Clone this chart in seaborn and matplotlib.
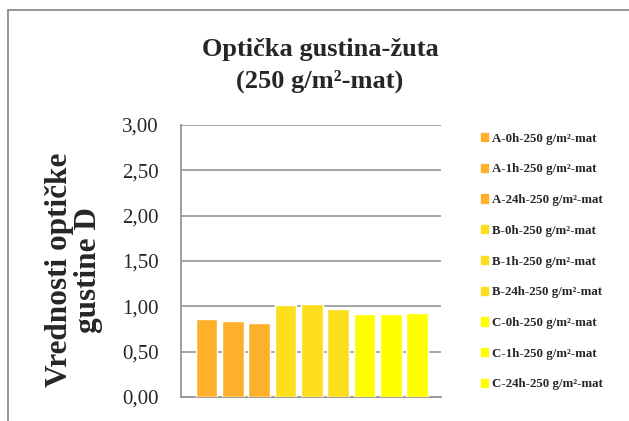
import pandas as pd
import matplotlib.pyplot as plt
import matplotlib.patches as mpatches
import seaborn as sns

labels = ['A-0h-250 g/m²-mat', 'A-1h-250 g/m²-mat', 'A-24h-250 g/m²-mat',
          'B-0h-250 g/m²-mat', 'B-1h-250 g/m²-mat', 'B-24h-250 g/m²-mat',
          'C-0h-250 g/m²-mat', 'C-1h-250 g/m²-mat', 'C-24h-250 g/m²-mat']
values = [0.86, 0.84, 0.82, 1.02, 1.03, 0.97, 0.92, 0.91, 0.93]
colors = ['#FDB12A', '#FDB12A', '#FDB12A',
          '#FCDE1C', '#FCDE1C', '#FCDE1C',
          '#FFFF00', '#FFFF00', '#FFFF00']
yticks = [0, 0.5, 1.0, 1.5, 2.0, 2.5, 3.0]

df = pd.DataFrame({'serija': labels, 'D': values})

sns.set_style('white')
plt.rcParams['font.family'] = ['Liberation Serif', 'DejaVu Serif']

fig = plt.figure(figsize=(6.29, 4.21), dpi=100)
ax = fig.add_axes([181/629, 24/421, 260/629, 272/421])

sns.barplot(data=df, x='serija', y='D', hue='serija', palette=colors, saturation=1,
            width=0.82, legend=False, ax=ax, zorder=3)

ax.set_xlim(-0.97, 8.9)
ax.set_ylim(0, 3.0)
ax.set_yticks(yticks)
ax.set_yticklabels([f'{t:.2f}'.replace('.', ',') for t in yticks], fontsize=15)
ax.set_xticks([])
ax.set_xlabel('')
ax.set_ylabel('')
ax.tick_params(axis='y', length=0, pad=16)
ax.grid(axis='y', color='#969696', linewidth=1.2, zorder=0)
ax.set_axisbelow(True)
for s in ['top', 'right']:
    ax.spines[s].set_visible(False)
for s in ['left', 'bottom']:
    ax.spines[s].set_color('#969696')
    ax.spines[s].set_linewidth(1.3)

handles = [mpatches.Patch(color=c, label=l) for c, l in zip(colors, labels)]
fig.legend(handles=handles, loc='upper left', bbox_to_anchor=(469/629, 1 - 121/421),
           frameon=False, prop={'size': 9.3, 'weight': 'bold'},
           handlelength=0.6, handleheight=0.6, handletextpad=0.3, labelspacing=1.45)

fig.text(320/629, 1 - 56/421, 'Optička gustina-žuta', ha='center', va='baseline',
         fontsize=19, fontweight='bold')
fig.text(320/629, 1 - 88/421, '(250 g/m²-mat)', ha='center', va='baseline',
         fontsize=19, fontweight='bold')
fig.text(74/629, 1 - 270/421, 'Vrednosti optičke\ngustine D', ha='center', va='center',
         rotation=90, fontsize=22.5, fontweight='bold', linespacing=1.0)

fig.patches.append(mpatches.Rectangle((8/629, -0.1), 1.2, 1 - 10/421 + 0.1,
                                      transform=fig.transFigure, fill=False,
                                      edgecolor='#8c8c8c', linewidth=1.3))

plt.savefig('out.png', dpi=100)
